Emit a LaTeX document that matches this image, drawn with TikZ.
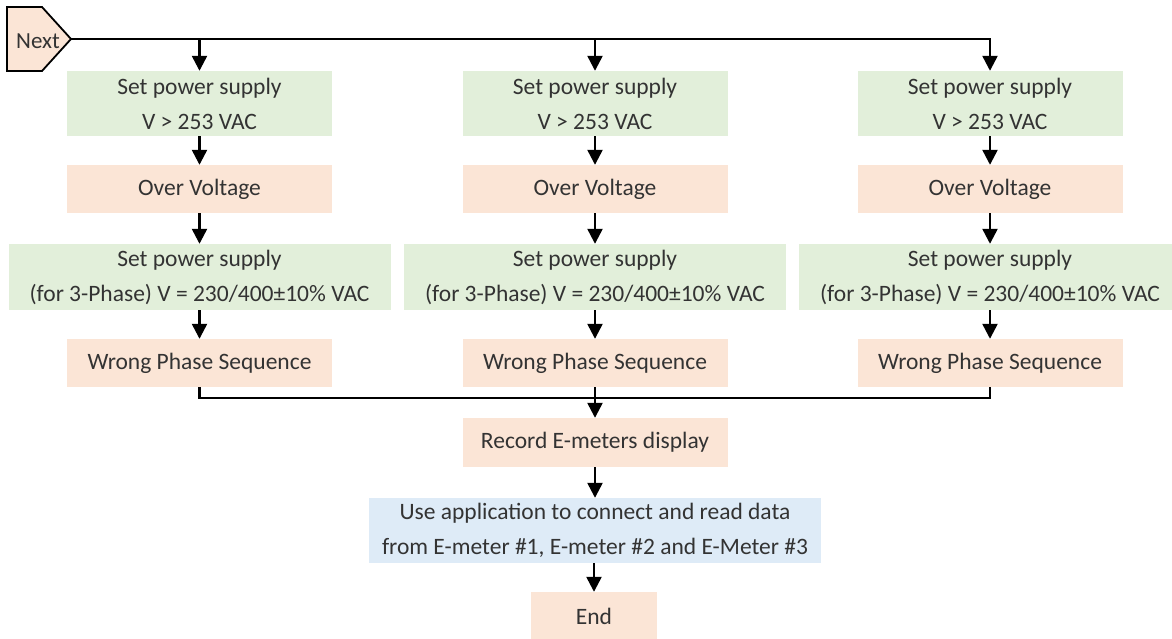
\documentclass[tikz,border=0pt]{standalone}
\usepackage{fontspec}
\setmainfont{Carlito}
\usetikzlibrary{arrows.meta}
\definecolor{boxgreen}{RGB}{226,239,218}
\definecolor{boxorange}{RGB}{251,229,214}
\definecolor{boxblue}{RGB}{222,235,247}
\tikzset{
	flowbox/.style={rectangle,inner sep=0pt,minimum width=265pt,minimum height=48pt,align=center,
		text=black!80,font=\fontsize{23.5}{35}\selectfont},
	setbox/.style={flowbox,fill=boxgreen,minimum height=65pt},
	alarmbox/.style={flowbox,fill=boxorange},
	flow/.style={->,line width=2.4pt},
	link/.style={line width=2.4pt}
}
\begin{document}
\begin{tikzpicture}[x=1pt,y=-1pt,>={Triangle[length=15pt,width=15pt]}]
	\useasboundingbox (0,0) rectangle (1172,639);
	
	%start
	\draw[line width=1.8pt,fill=boxorange] (7,7) -- (42,7) -- (71,39) -- (42,71) -- (7,71) -- cycle;
	\node[text=black!80,font=\fontsize{23}{26}\selectfont] (next) at (38,41) {Next};
	\coordinate (tip) at (71,39);
	
	%column 1
	\node[setbox]   (hva) at (199.5,103.5) {Set power supply\\V > 253 VAC};
	\node[alarmbox] (ova) at (199.5,189)   {Over Voltage};
	\node[setbox,minimum width=382pt,minimum height=66pt] (nva) at (199.5,277)
		{Set power supply\\(for 3-Phase) V = 230/400±10\% VAC};
	\node[alarmbox] (wpa) at (199.5,363)   {Wrong Phase Sequence};
	
	%column 2
	\node[setbox]   (hvb) at (595,103.5) {Set power supply\\V > 253 VAC};
	\node[alarmbox] (ovb) at (595,189)   {Over Voltage};
	\node[setbox,minimum width=382pt,minimum height=66pt] (nvb) at (595,277)
		{Set power supply\\(for 3-Phase) V = 230/400±10\% VAC};
	\node[alarmbox] (wpb) at (595,363)   {Wrong Phase Sequence};
	
	%column 3
	\node[setbox]   (hvc) at (990,103.5) {Set power supply\\V > 253 VAC};
	\node[alarmbox] (ovc) at (990,189)   {Over Voltage};
	\node[setbox,minimum width=382pt,minimum height=66pt] (nvc) at (990,277)
		{Set power supply\\(for 3-Phase) V = 230/400±10\% VAC};
	\node[alarmbox] (wpc) at (990,363)   {Wrong Phase Sequence};
	
	%after merge
	\node[alarmbox,minimum height=49pt] (rec) at (595,442.5) {Record E-meters display};
	\node[flowbox,fill=boxblue,minimum width=452pt,minimum height=65pt] (app) at (595,530.5)
		{Use application to connect and read data\\from E-meter \#1, E-meter \#2 and E-Meter \#3};
	\node[alarmbox,minimum width=126pt] (end) at (594,616) {End};
	\coordinate (merge) at (595,398);
	
	%split from start
	\draw[flow] (tip) -| (hvc.north);
	\draw[flow] (tip -| hva.north) -- (hva.north);
	\draw[flow] (tip -| hvb.north) -- (hvb.north);
	
	%down the columns
	\draw[flow] (hva) -- (ova);	\draw[flow] (ova) -- (nva);	\draw[flow] (nva) -- (wpa);
	\draw[flow] (hvb) -- (ovb);	\draw[flow] (ovb) -- (nvb);	\draw[flow] (nvb) -- (wpb);
	\draw[flow] (hvc) -- (ovc);	\draw[flow] (ovc) -- (nvc);	\draw[flow] (nvc) -- (wpc);
	
	%merge
	\draw[link] (wpa.south) |- (merge) -| (wpc.south);
	\draw[flow] (wpb) -- (rec);
	\draw[flow] (rec) -- (app);
	\draw[flow] (app.south -| end.north) -- (end);
	
\end{tikzpicture}
\end{document}
